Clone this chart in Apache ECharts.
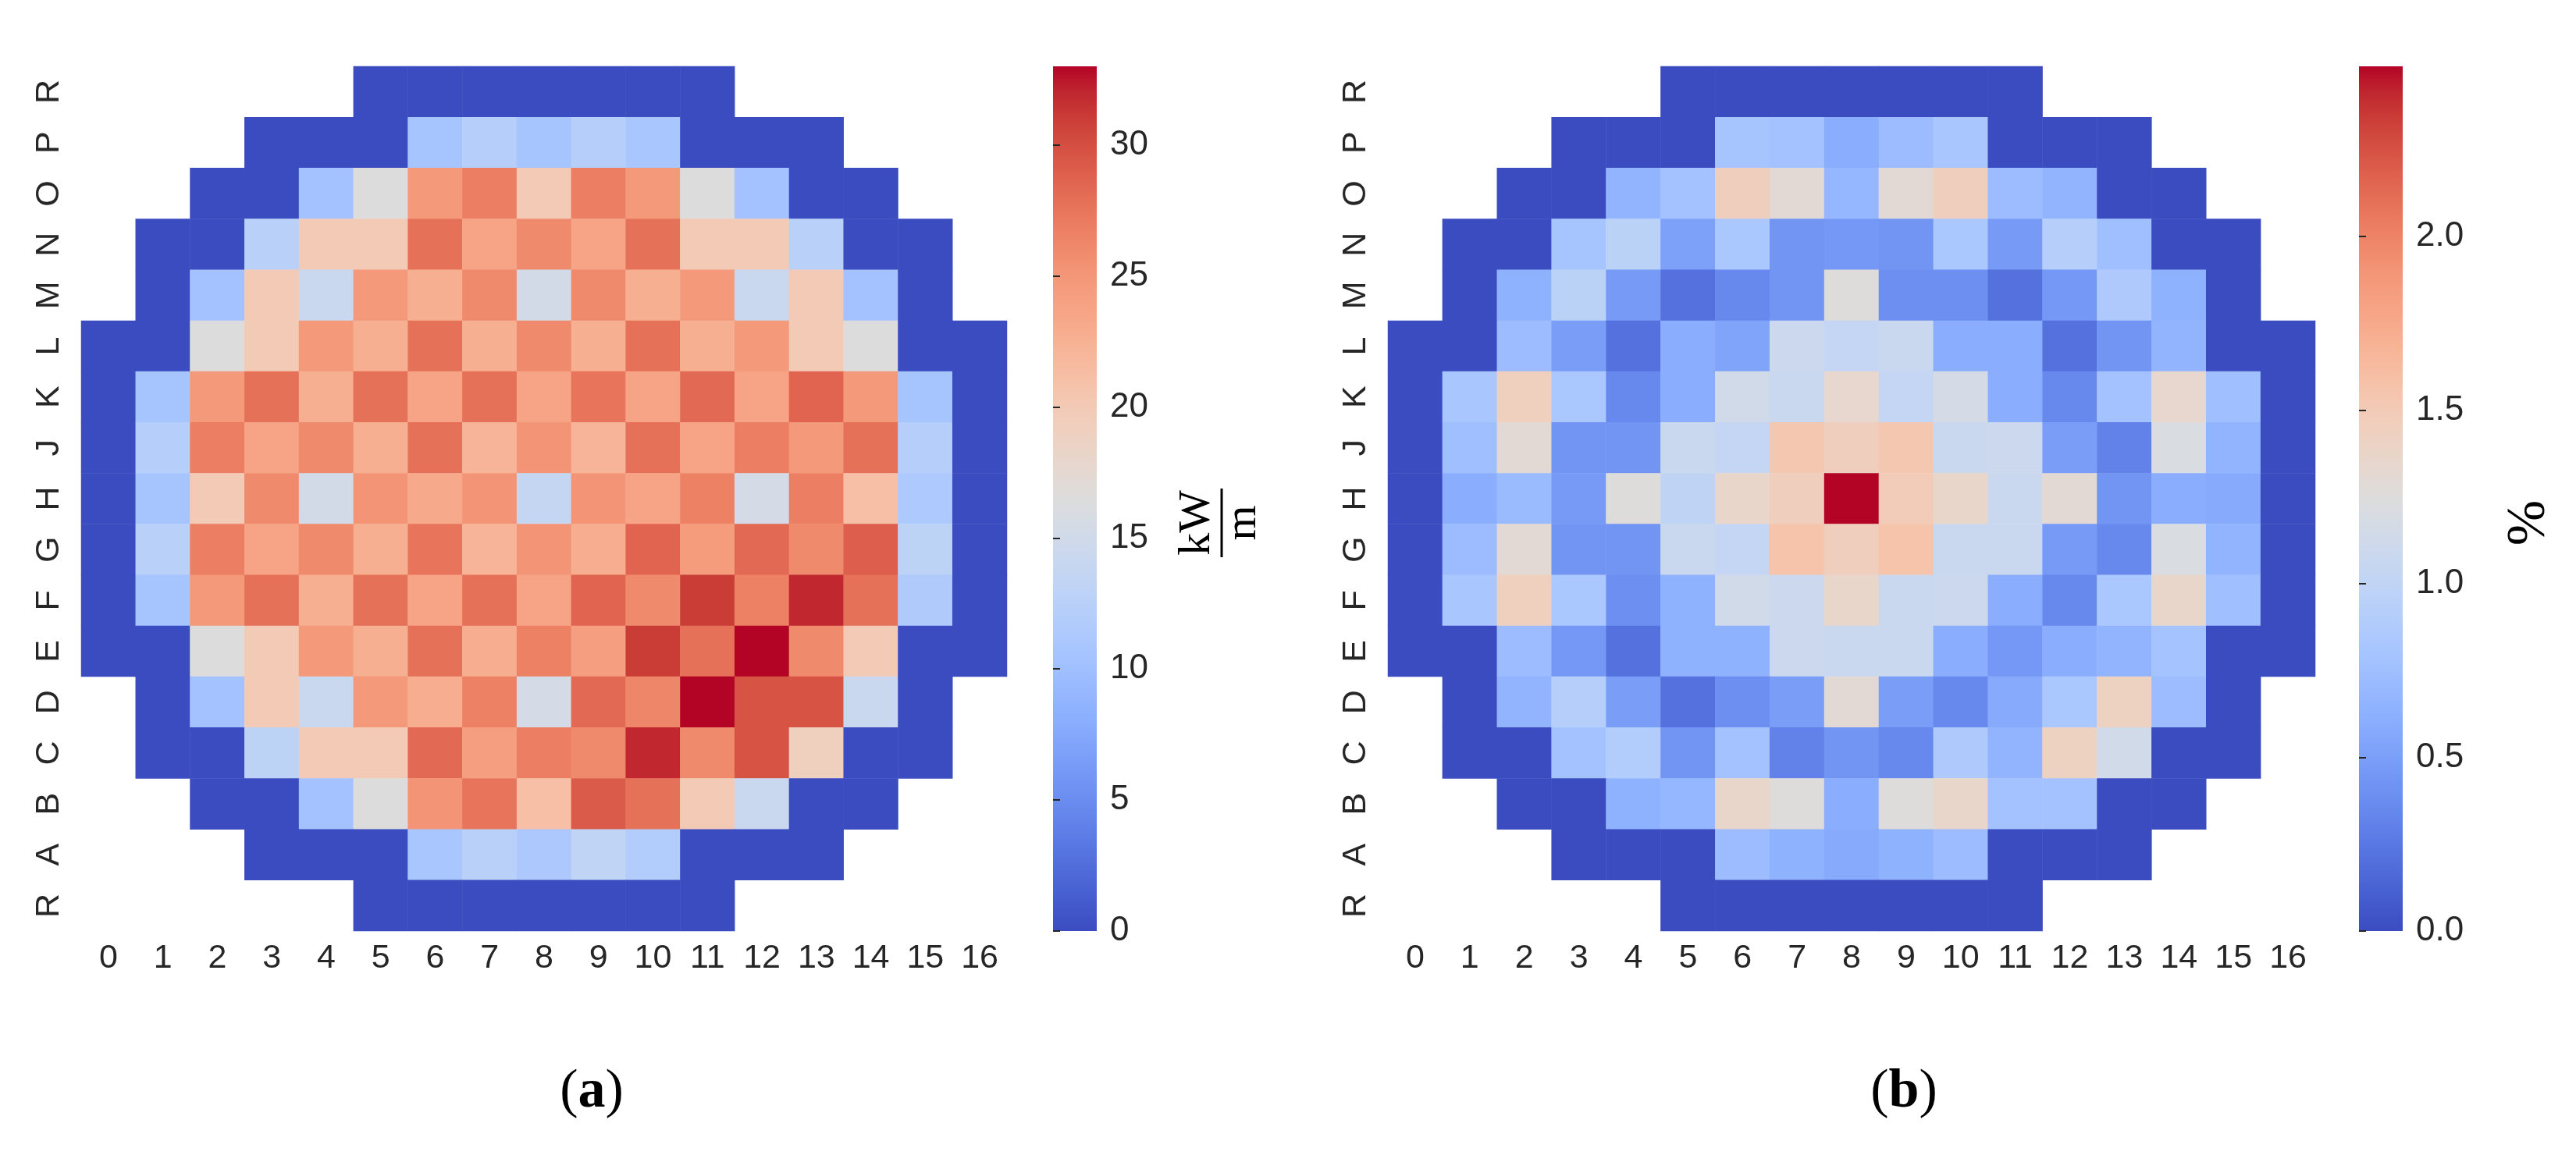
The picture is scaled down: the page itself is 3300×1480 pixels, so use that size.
<!DOCTYPE html>
<html>
<head>
<meta charset="utf-8">
<script src="https://cdn.jsdelivr.net/npm/echarts@6/dist/echarts.min.js"></script>
<style>
  html, body { margin: 0; padding: 0; background: #fff; }
  #chart { width: 3300px; height: 1480px; }
</style>
</head>
<body>
<div id="chart"></div>
<script>
var N = null;

// x categories (columns) and y categories (rows, bottom to top)
var colLabels = ['0', '1', '2', '3', '4', '5', '6', '7', '8', '9', '10', '11', '12', '13', '14', '15', '16'];
var rowLabels = ['R', 'A', 'B', 'C', 'D', 'E', 'F', 'G', 'H', 'J', 'K', 'L', 'M', 'N', 'O', 'P', 'R'];

// (a) linear power, kW/m -- rows listed top (R) to bottom (R)
var linPower = [
    [N, N, N, N, N, 0, 0, 0, 0, 0, 0, 0, N, N, N, N, N],
    [N, N, N, 0, 0, 0, 10.6, 12.2, 10.6, 12.2, 10.9, 0, 0, 0, N, N, N],
    [N, N, 0, 0, 10.3, 16.5, 24.8, 26.8, 19.9, 26.8, 24.8, 16.5, 10.3, 0, 0, N, N],
    [N, 0, 0, 12.5, 19.9, 19.9, 27.8, 23.7, 26.0, 23.7, 27.8, 19.9, 19.9, 12.5, 0, 0, N],
    [N, 0, 10.3, 19.9, 14.2, 24.8, 22.7, 26.0, 15.2, 26.0, 22.7, 24.8, 14.2, 19.9, 10.3, 0, N],
    [0, 0, 16.5, 19.9, 24.8, 22.7, 27.8, 22.7, 26.0, 22.7, 27.8, 22.7, 24.8, 19.9, 16.5, 0, 0],
    [0, 10.6, 24.8, 27.8, 22.7, 27.8, 23.7, 27.8, 23.7, 27.6, 23.7, 28.3, 23.7, 28.6, 24.8, 10.6, 0],
    [0, 12.2, 26.8, 23.7, 26.0, 22.7, 27.8, 22.2, 25.2, 22.2, 27.8, 23.7, 26.8, 24.8, 27.8, 12.2, 0],
    [0, 10.6, 19.9, 26.0, 15.2, 25.2, 23.2, 25.2, 13.7, 25.2, 23.7, 26.7, 15.5, 26.8, 21.1, 11.3, 0],
    [0, 12.5, 26.8, 23.7, 26.0, 22.7, 27.6, 22.2, 25.2, 22.9, 28.6, 24.5, 28.3, 26.0, 29.0, 12.9, 0],
    [0, 10.6, 24.8, 27.8, 22.7, 27.8, 23.7, 27.8, 23.7, 28.6, 26.0, 31.0, 26.7, 32.0, 27.8, 11.5, 0],
    [0, 0, 16.5, 19.9, 24.8, 22.7, 27.8, 22.9, 26.7, 24.2, 31.0, 27.8, 33.0, 26.0, 19.9, 0, 0],
    [N, 0, 10.3, 19.9, 14.2, 24.8, 22.9, 26.7, 15.5, 28.3, 26.3, 33.0, 29.7, 29.7, 14.2, 0, N],
    [N, 0, 0, 12.9, 19.9, 19.9, 28.3, 24.2, 26.8, 26.0, 32.0, 26.0, 29.7, 19.1, 0, 0, N],
    [N, N, 0, 0, 10.3, 16.5, 25.2, 27.6, 21.1, 29.2, 27.8, 19.9, 14.2, 0, 0, N, N],
    [N, N, N, 0, 0, 0, 10.9, 12.5, 11.2, 13.2, 11.8, 0, 0, 0, N, N, N],
    [N, N, N, N, N, 0, 0, 0, 0, 0, 0, 0, N, N, N, N, N]
];

// (b) relative deviation, % -- rows listed top (R) to bottom (R)
var relDiff = [
    [N, N, N, N, N, 0, 0, 0, 0, 0, 0, 0, N, N, N, N, N],
    [N, N, N, 0, 0, 0, 0.80, 0.78, 0.60, 0.73, 0.82, 0, 0, 0, N, N, N],
    [N, N, 0, 0, 0.66, 0.78, 1.46, 1.30, 0.68, 1.30, 1.46, 0.73, 0.66, 0, 0, N, N],
    [N, 0, 0, 0.80, 0.96, 0.51, 0.83, 0.43, 0.45, 0.43, 0.83, 0.47, 0.92, 0.75, 0, 0, N],
    [N, 0, 0.64, 0.96, 0.47, 0.21, 0.35, 0.43, 1.25, 0.39, 0.39, 0.21, 0.45, 0.86, 0.64, 0, N],
    [0, 0, 0.73, 0.49, 0.21, 0.60, 0.54, 1.10, 1.03, 1.07, 0.60, 0.60, 0.21, 0.43, 0.66, 0, 0],
    [0, 0.82, 1.44, 0.83, 0.35, 0.60, 1.14, 1.07, 1.34, 1.03, 1.17, 0.60, 0.35, 0.78, 1.34, 0.75, 0],
    [0, 0.75, 1.30, 0.43, 0.43, 1.07, 1.03, 1.53, 1.46, 1.53, 1.07, 1.10, 0.49, 0.31, 1.21, 0.66, 0],
    [0, 0.60, 0.72, 0.47, 1.25, 0.99, 1.36, 1.46, 2.49, 1.49, 1.36, 1.07, 1.30, 0.43, 0.60, 0.58, 0],
    [0, 0.73, 1.30, 0.43, 0.43, 1.07, 1.03, 1.56, 1.46, 1.56, 1.07, 1.07, 0.47, 0.35, 1.21, 0.66, 0],
    [0, 0.82, 1.44, 0.83, 0.39, 0.64, 1.14, 1.10, 1.36, 1.07, 1.10, 0.60, 0.35, 0.83, 1.36, 0.75, 0],
    [0, 0, 0.73, 0.45, 0.21, 0.64, 0.64, 1.10, 1.07, 1.07, 0.60, 0.45, 0.60, 0.66, 0.79, 0, 0],
    [N, 0, 0.66, 0.92, 0.49, 0.21, 0.39, 0.49, 1.30, 0.49, 0.35, 0.58, 0.83, 1.42, 0.73, 0, N],
    [N, 0, 0, 0.78, 0.89, 0.43, 0.78, 0.31, 0.43, 0.35, 0.86, 0.66, 1.42, 1.14, 0, 0, N],
    [N, N, 0, 0, 0.64, 0.68, 1.36, 1.25, 0.60, 1.25, 1.36, 0.78, 0.78, 0, 0, N, N],
    [N, N, N, 0, 0, 0, 0.73, 0.64, 0.58, 0.64, 0.73, 0, 0, 0, N, N, N],
    [N, N, N, N, N, 0, 0, 0, 0, 0, 0, 0, N, N, N, N, N]
];

// colorbar ranges and ticks
var powerMax = 33;
var diffMax = 2.49;
var powerTicks = [0, 5, 10, 15, 20, 25, 30];
var diffTicks = [0, 0.5, 1.0, 1.5, 2.0];

// matplotlib coolwarm
var coolwarm = ['#3b4cc0', '#445acc', '#4d68d7', '#5775e1', '#6282ea', '#6c8ff1', '#779af7',
    '#82a5fb', '#8db0fe', '#98b9ff', '#a3c2ff', '#aec9fd', '#b8d0f9', '#c2d5f4', '#cbd8ee',
    '#d4dbe6', '#dddcdc', '#e5d8d1', '#ecd3c5', '#f1cdba', '#f5c4ac', '#f7ba9f', '#f7af91',
    '#f7a385', '#f49a7b', '#f18d6f', '#ec7f63', '#e57058', '#de604d', '#d55042', '#cb3e38',
    '#c0282f', '#b40426'];

var TXT = '#262626';
var SANS = '"Liberation Sans", Arial, sans-serif';
var SERIF = '"Liberation Serif", "DejaVu Serif", serif';

// grid rows are top to bottom, the y axis runs bottom to top
function toCells(rows) {
    var out = [];
    for (var r = 0; r < rows.length; r++) {
        for (var c = 0; c < rows[r].length; c++) {
            if (rows[r][c] !== null) {
                out.push([c, rows.length - 1 - r, rows[r][c]]);
            }
        }
    }
    return out;
}

function barGradient() {
    var stops = coolwarm.map(function(col, i) {
        return {offset: i / (coolwarm.length - 1), color: col};
    });
    return new echarts.graphic.LinearGradient(0, 1, 0, 0, stops);
}

function mapX(idx) {
    return {
        type: 'category', gridIndex: idx, data: colLabels,
        axisLine: {show: false}, axisTick: {show: false}, splitLine: {show: false},
        axisLabel: {fontSize: 43, color: TXT, fontFamily: SANS, margin: 14, interval: 0}
    };
}

function mapY(idx) {
    return {
        type: 'category', gridIndex: idx, data: rowLabels,
        axisLine: {show: false}, axisTick: {show: false}, splitLine: {show: false},
        axisLabel: {fontSize: 43, color: TXT, fontFamily: SANS, margin: 19, rotate: 90, interval: 0}
    };
}

function barY(idx, max, ticks, digits) {
    return {
        type: 'value', gridIndex: idx, position: 'right', min: 0, max: max,
        axisLine: {show: false}, splitLine: {show: false},
        axisTick: {show: true, length: 9, customValues: ticks, lineStyle: {color: TXT, width: 2}},
        axisLabel: {
            customValues: ticks, fontSize: 44, color: TXT, fontFamily: SANS, margin: 17,
            formatter: function(v) { return v.toFixed(digits); }
        }
    };
}

// subfigure tag: regular parens, bold letter
function panelTag(letter, x) {
    return {
        type: 'text', x: x, y: 1400,
        style: {
            text: '{p|(}{b|' + letter + '}{p|)}',
            rich: {
                p: {fontSize: 70, fontFamily: SERIF, fill: '#000', color: '#000'},
                b: {fontSize: 70, fontFamily: SERIF, fontWeight: 'bold', fill: '#000', color: '#000'}
            },
            align: 'center', verticalAlign: 'middle', textAlign: 'center', textVerticalAlign: 'middle'
        }
    };
}

var option = {
    backgroundColor: '#fff',
    animation: false,
    grid: [
        {left: 104, top: 85, width: 1186, height: 1108},
        {left: 1778, top: 85, width: 1188, height: 1108},
        {left: 1349, top: 85, width: 56, height: 1108, show: true, borderWidth: 0, backgroundColor: barGradient()},
        {left: 3022, top: 85, width: 56, height: 1108, show: true, borderWidth: 0, backgroundColor: barGradient()}
    ],
    xAxis: [
        mapX(0), mapX(1),
        {type: 'value', gridIndex: 2, show: false},
        {type: 'value', gridIndex: 3, show: false}
    ],
    yAxis: [
        mapY(0), mapY(1),
        barY(2, powerMax, powerTicks, 0),
        barY(3, diffMax, diffTicks, 1)
    ],
    visualMap: [
        {type: 'continuous', show: false, seriesIndex: 0, min: 0, max: powerMax, inRange: {color: coolwarm}},
        {type: 'continuous', show: false, seriesIndex: 1, min: 0, max: diffMax, inRange: {color: coolwarm}}
    ],
    series: [
        {type: 'heatmap', xAxisIndex: 0, yAxisIndex: 0, data: toCells(linPower), emphasis: {disabled: true}},
        {type: 'heatmap', xAxisIndex: 1, yAxisIndex: 1, data: toCells(relDiff), emphasis: {disabled: true}}
    ],
    graphic: [
        {
            // kW / m fraction, rotated like the colorbar label
            type: 'group', x: 1565, y: 670, rotation: Math.PI / 2,
            children: [
                {type: 'text', x: 0, y: -31, style: {text: 'kW', fontSize: 58, fontFamily: SERIF, fill: '#000',
                    align: 'center', verticalAlign: 'middle', textAlign: 'center', textVerticalAlign: 'middle'}},
                {type: 'line', shape: {x1: -44, y1: 0, x2: 44, y2: 0}, style: {stroke: '#000', lineWidth: 3}},
                {type: 'text', x: 0, y: 28, style: {text: 'm', fontSize: 58, fontFamily: SERIF, fill: '#000',
                    align: 'center', verticalAlign: 'middle', textAlign: 'center', textVerticalAlign: 'middle'}}
            ]
        },
        {
            type: 'text', x: 3241, y: 670, rotation: Math.PI / 2,
            style: {text: '%', fontSize: 70, fontFamily: SERIF, fill: '#000',
                align: 'center', verticalAlign: 'middle', textAlign: 'center', textVerticalAlign: 'middle'}
        },
        panelTag('a', 758),
        panelTag('b', 2439)
    ]
};

var chart = echarts.init(document.getElementById('chart'));
chart.setOption(option);
</script>
</body>
</html>
